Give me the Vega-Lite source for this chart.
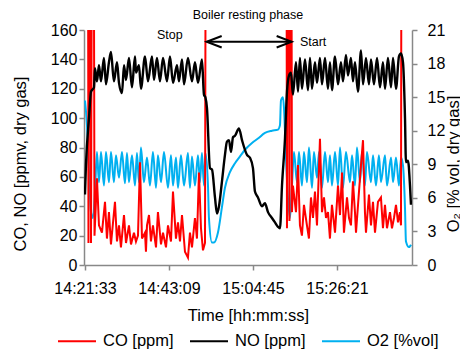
{
  "$schema": "https://vega.github.io/schema/vega-lite/v6.json",
  "width": 328,
  "height": 235,
  "autosize": {"type": "none"},
  "padding": {"left": 84, "top": 30, "right": 48, "bottom": 87},
  "background": "white",
  "title": {"text": "Boiler resting phase", "font": "Liberation Sans", "fontSize": 12.5, "fontWeight": "normal", "color": "#000", "anchor": "middle", "offset": 1},
  "config": {
    "view": {"stroke": null},
    "axis": {"grid": false, "domainColor": "#888888", "tickColor": "#888888", "domainWidth": 1.5, "tickWidth": 1.5, "tickSize": 5, "labelFont": "Liberation Sans", "labelFontSize": 16, "labelColor": "#000", "titleFont": "Liberation Sans", "titleFontSize": 16.5, "titleFontWeight": "normal", "titleColor": "#000"},
    "legend": {"symbolType": "stroke", "symbolSize": 1444, "symbolStrokeWidth": 2, "labelFont": "Liberation Sans", "labelFontSize": 16.5, "labelColor": "#000", "labelOffset": 6, "columnPadding": 12, "labelLimit": 0}
  },
  "datasets": {
    "note": [{"k": 1}],
    "co": [
      {"t":0,"v":500},{"t":39,"v":500},{"t":54,"v":15},{"t":77,"v":500},{"t":93,"v":15},{"t":123,"v":500},{"t":147,"v":20},{"t":185,"v":59},{"t":216,"v":27},{"t":262,"v":22},{"t":309,"v":43},{"t":339,"v":18},{"t":370,"v":36},{"t":401,"v":14},{"t":463,"v":43},{"t":494,"v":16},{"t":525,"v":27},{"t":555,"v":12},{"t":602,"v":34},{"t":633,"v":15},{"t":679,"v":27},{"t":710,"v":14},{"t":756,"v":22},{"t":787,"v":16},{"t":818,"v":20},{"t":849,"v":70},{"t":880,"v":18},{"t":926,"v":22},{"t":941,"v":9},{"t":957,"v":27},{"t":988,"v":34},{"t":1018,"v":16},{"t":1049,"v":27},{"t":1096,"v":12},{"t":1126,"v":36},{"t":1173,"v":14},{"t":1204,"v":22},{"t":1250,"v":12},{"t":1281,"v":27},{"t":1327,"v":16},{"t":1358,"v":50},{"t":1404,"v":18},{"t":1435,"v":29},{"t":1466,"v":16},{"t":1497,"v":34},{"t":1543,"v":9},{"t":1589,"v":5},{"t":1620,"v":22},{"t":1651,"v":12},{"t":1697,"v":32},{"t":1728,"v":18},{"t":1759,"v":63},{"t":1790,"v":25},{"t":1821,"v":10},{"t":1852,"v":15},{"t":1875,"v":500},
      {"t":3101,"v":500},{"t":3117,"v":25},{"t":3137,"v":500},{"t":3155,"v":30},{"t":3174,"v":500},{"t":3194,"v":36},{"t":3209,"v":54},{"t":3256,"v":36},{"t":3287,"v":68},{"t":3317,"v":27},{"t":3348,"v":20},{"t":3379,"v":41},{"t":3425,"v":27},{"t":3456,"v":18},{"t":3487,"v":46},{"t":3518,"v":32},{"t":3549,"v":50},{"t":3580,"v":27},{"t":3626,"v":86},{"t":3657,"v":36},{"t":3688,"v":46},{"t":3719,"v":32},{"t":3750,"v":36},{"t":3780,"v":18},{"t":3811,"v":41},{"t":3858,"v":22},{"t":3904,"v":54},{"t":3935,"v":34},{"t":3966,"v":63},{"t":3996,"v":22},{"t":4043,"v":46},{"t":4074,"v":32},{"t":4104,"v":27},{"t":4135,"v":57},{"t":4166,"v":36},{"t":4182,"v":22},{"t":4228,"v":50},{"t":4259,"v":68},{"t":4290,"v":85},{"t":4320,"v":36},{"t":4336,"v":22},{"t":4382,"v":48},{"t":4413,"v":27},{"t":4444,"v":43},{"t":4475,"v":22},{"t":4521,"v":43},{"t":4567,"v":46},{"t":4598,"v":25},{"t":4629,"v":41},{"t":4660,"v":25},{"t":4706,"v":36},{"t":4737,"v":25},{"t":4768,"v":32},{"t":4799,"v":41},{"t":4830,"v":29},{"t":4860,"v":36},{"t":4876,"v":27},{"t":4891,"v":500},{"t":5030,"v":500}
    ],
    "no": [
      {"t":0,"v":48},{"t":15,"v":68},{"t":62,"v":100},{"t":93,"v":118},{"t":139,"v":121},{"t":154,"v":134},{"t":185,"v":125},{"t":216,"v":136},{"t":247,"v":125},{"t":293,"v":141},{"t":324,"v":123},{"t":370,"v":138},{"t":401,"v":145},{"t":447,"v":125},{"t":494,"v":138},{"t":525,"v":124},{"t":571,"v":117},{"t":602,"v":136},{"t":633,"v":126},{"t":679,"v":141},{"t":725,"v":121},{"t":772,"v":142},{"t":787,"v":131},{"t":833,"v":136},{"t":864,"v":120},{"t":926,"v":142},{"t":972,"v":125},{"t":1034,"v":142},{"t":1065,"v":126},{"t":1111,"v":141},{"t":1157,"v":125},{"t":1204,"v":141},{"t":1265,"v":125},{"t":1312,"v":142},{"t":1358,"v":124},{"t":1420,"v":136},{"t":1450,"v":125},{"t":1497,"v":140},{"t":1528,"v":123},{"t":1589,"v":141},{"t":1651,"v":125},{"t":1697,"v":138},{"t":1744,"v":124},{"t":1805,"v":140},{"t":1836,"v":116},{"t":1859,"v":114},{"t":1882,"v":107},{"t":1929,"v":66},{"t":1960,"v":65},{"t":2006,"v":46},{"t":2037,"v":35},{"t":2068,"v":40},{"t":2114,"v":57},{"t":2160,"v":75},{"t":2191,"v":84},{"t":2222,"v":85},{"t":2253,"v":77},{"t":2284,"v":87},{"t":2315,"v":88},{"t":2376,"v":93},{"t":2423,"v":85},{"t":2500,"v":75},{"t":2546,"v":73},{"t":2592,"v":66},{"t":2623,"v":50},{"t":2669,"v":46},{"t":2731,"v":40},{"t":2777,"v":42},{"t":2824,"v":36},{"t":2885,"v":32},{"t":2932,"v":29},{"t":2978,"v":26},{"t":3009,"v":25},{"t":3040,"v":54},{"t":3086,"v":86},{"t":3117,"v":118},{"t":3148,"v":129},{"t":3179,"v":131},{"t":3209,"v":116},{"t":3256,"v":138},{"t":3287,"v":118},{"t":3317,"v":141},{"t":3348,"v":120},{"t":3395,"v":140},{"t":3441,"v":119},{"t":3472,"v":141},{"t":3503,"v":120},{"t":3549,"v":138},{"t":3580,"v":124},{"t":3626,"v":141},{"t":3657,"v":123},{"t":3703,"v":141},{"t":3750,"v":120},{"t":3780,"v":138},{"t":3811,"v":119},{"t":3858,"v":142},{"t":3904,"v":123},{"t":3950,"v":138},{"t":3981,"v":125},{"t":4027,"v":143},{"t":4058,"v":129},{"t":4104,"v":141},{"t":4135,"v":125},{"t":4166,"v":138},{"t":4212,"v":118},{"t":4259,"v":146},{"t":4290,"v":123},{"t":4336,"v":141},{"t":4382,"v":123},{"t":4413,"v":140},{"t":4459,"v":123},{"t":4506,"v":141},{"t":4552,"v":121},{"t":4598,"v":138},{"t":4629,"v":120},{"t":4675,"v":141},{"t":4722,"v":121},{"t":4753,"v":141},{"t":4799,"v":120},{"t":4845,"v":142},{"t":4876,"v":144},{"t":4907,"v":138},{"t":4938,"v":100},{"t":4953,"v":70},{"t":4984,"v":71},{"t":5015,"v":54},{"t":5030,"v":41}
    ],
    "o2": [
      {"t":0,"v":14.7},{"t":31,"v":12.5},{"t":62,"v":8.3},{"t":93,"v":4.7},{"t":123,"v":4.2},{"t":154,"v":6.5},{"t":185,"v":10.1},{"t":216,"v":7.4},{"t":247,"v":10.1},{"t":293,"v":7.1},{"t":324,"v":10.1},{"t":370,"v":7.4},{"t":401,"v":10.1},{"t":447,"v":7.4},{"t":478,"v":9.8},{"t":525,"v":7.8},{"t":571,"v":10.1},{"t":617,"v":7.3},{"t":648,"v":10.0},{"t":679,"v":7.4},{"t":725,"v":9.8},{"t":772,"v":7.1},{"t":802,"v":10.0},{"t":833,"v":7.4},{"t":864,"v":10.5},{"t":910,"v":7.4},{"t":957,"v":9.6},{"t":1003,"v":7.1},{"t":1049,"v":10.1},{"t":1096,"v":6.9},{"t":1126,"v":9.8},{"t":1173,"v":7.4},{"t":1219,"v":10.1},{"t":1281,"v":6.9},{"t":1327,"v":9.8},{"t":1358,"v":7.1},{"t":1404,"v":9.6},{"t":1435,"v":6.9},{"t":1481,"v":9.8},{"t":1528,"v":7.1},{"t":1589,"v":10.0},{"t":1620,"v":6.9},{"t":1651,"v":9.7},{"t":1697,"v":7.1},{"t":1744,"v":9.8},{"t":1774,"v":7.4},{"t":1805,"v":10.0},{"t":1836,"v":7.1},{"t":1859,"v":10.0},{"t":1898,"v":7.1},{"t":1913,"v":4.2},{"t":1960,"v":2.0},{"t":1990,"v":2.0},{"t":2052,"v":2.9},{"t":2114,"v":5.2},{"t":2160,"v":6.9},{"t":2237,"v":8.3},{"t":2315,"v":9.1},{"t":2392,"v":9.7},{"t":2469,"v":10.3},{"t":2577,"v":10.9},{"t":2669,"v":11.3},{"t":2777,"v":11.8},{"t":2885,"v":12.0},{"t":2978,"v":12.1},{"t":3009,"v":12.5},{"t":3024,"v":14.7},{"t":3055,"v":15.0},{"t":3071,"v":14.0},{"t":3101,"v":9.6},{"t":3132,"v":6.0},{"t":3163,"v":4.2},{"t":3194,"v":7.1},{"t":3225,"v":10.1},{"t":3271,"v":7.4},{"t":3302,"v":10.1},{"t":3348,"v":7.1},{"t":3379,"v":10.1},{"t":3425,"v":7.4},{"t":3456,"v":10.5},{"t":3503,"v":6.9},{"t":3533,"v":10.1},{"t":3580,"v":7.8},{"t":3611,"v":10.1},{"t":3657,"v":6.9},{"t":3703,"v":10.1},{"t":3750,"v":7.4},{"t":3780,"v":9.8},{"t":3811,"v":7.1},{"t":3858,"v":10.1},{"t":3904,"v":7.1},{"t":3935,"v":10.5},{"t":3981,"v":6.9},{"t":4027,"v":10.1},{"t":4089,"v":7.4},{"t":4120,"v":9.8},{"t":4166,"v":7.1},{"t":4197,"v":10.5},{"t":4243,"v":7.4},{"t":4274,"v":10.1},{"t":4320,"v":7.1},{"t":4351,"v":10.1},{"t":4413,"v":7.4},{"t":4444,"v":9.8},{"t":4490,"v":7.1},{"t":4536,"v":9.8},{"t":4567,"v":7.4},{"t":4629,"v":9.8},{"t":4660,"v":7.1},{"t":4722,"v":9.6},{"t":4753,"v":7.4},{"t":4799,"v":9.6},{"t":4845,"v":7.1},{"t":4876,"v":9.6},{"t":4907,"v":8.9},{"t":4938,"v":5.1},{"t":4953,"v":2.1},{"t":4999,"v":1.6},{"t":5030,"v":1.8}
    ]
  },
  "layer": [
    {
      "data": {"name": "o2"},
      "mark": {"type": "line", "strokeWidth": 2, "clip": true, "interpolate": "monotone"},
      "encoding": {
        "x": {"field": "t", "type": "quantitative", "scale": {"domain": [-15, 5046], "nice": false, "zero": false},
              "axis": {"orient": "bottom", "values": [0, 1296, 2592, 3888], "labelExpr": "utcFormat((datum.value + 51693) * 1000, '%H:%M:%S')", "labelPadding": 10, "labelFlush": false, "labelOverlap": false, "title": "Time [hh:mm:ss]", "titleY": 55, "titleBaseline": "alphabetic"}},
        "y": {"field": "v", "type": "quantitative", "scale": {"domain": [0, 21], "nice": false},
              "axis": {"orient": "right", "values": [0, 3, 6, 9, 12, 15, 18, 21], "labelPadding": 10, "labelFlush": false, "labelOverlap": false, "title": "O₂ [% vol, dry gas]", "titleAngle": 270, "titleX": 41, "titleY": 133.5, "titleBaseline": "middle", "titleAlign": "center"}},
        "color": {"datum": "O2 [%vol]", "type": "nominal",
                  "scale": {"domain": ["CO [ppm]", "NO [ppm]", "O2 [%vol]"], "range": ["#FF0000", "#000000", "#00B0F0"]},
                  "legend": {"title": null, "orient": "none", "legendX": -27, "legendY": 291, "direction": "horizontal"}}
      }
    },
    {
      "data": {"name": "co"},
      "mark": {"type": "line", "strokeWidth": 2, "clip": true},
      "encoding": {
        "x": {"field": "t", "type": "quantitative"},
        "y": {"field": "v", "type": "quantitative", "scale": {"domain": [0, 160], "nice": false},
              "axis": {"orient": "left", "values": [0, 20, 40, 60, 80, 100, 120, 140, 160], "labelPadding": 2, "labelFlush": false, "labelOverlap": false, "title": "CO, NO [ppmv, dry gas]", "titleAngle": 270, "titleX": -63.5, "titleY": 133.5, "titleBaseline": "middle", "titleAlign": "center"}},
        "color": {"datum": "CO [ppm]", "type": "nominal"}
      }
    },
    {
      "data": {"name": "no"},
      "mark": {"type": "line", "strokeWidth": 2.4, "clip": true, "interpolate": "monotone"},
      "encoding": {
        "x": {"field": "t", "type": "quantitative"},
        "y": {"field": "v", "type": "quantitative", "scale": {"domain": [0, 160], "nice": false}, "axis": null},
        "color": {"datum": "NO [ppm]", "type": "nominal"}
      }
    },
    {
      "data": {"name": "note"},
      "mark": {"type": "rule", "color": "#000", "strokeWidth": 2},
      "encoding": {
        "x": {"datum": 1878, "type": "quantitative"},
        "x2": {"datum": 3189},
        "y": {"datum": 152, "type": "quantitative", "scale": {"domain": [0, 160], "nice": false}, "axis": null}
      }
    },
    {
      "data": {"name": "note"},
      "mark": {"type": "point", "shape": "M2,-0.76L0,0L2,0.76", "size": 225, "filled": false, "color": "#000", "strokeWidth": 2, "opacity": 1},
      "encoding": {
        "x": {"datum": 1878, "type": "quantitative"},
        "y": {"datum": 152, "type": "quantitative", "scale": {"domain": [0, 160], "nice": false}, "axis": null}
      }
    },
    {
      "data": {"name": "note"},
      "mark": {"type": "point", "shape": "M-2,-0.76L0,0L-2,0.76", "size": 225, "filled": false, "color": "#000", "strokeWidth": 2, "opacity": 1},
      "encoding": {
        "x": {"datum": 3189, "type": "quantitative"},
        "y": {"datum": 152, "type": "quantitative", "scale": {"domain": [0, 160], "nice": false}, "axis": null}
      }
    },
    {
      "data": {"name": "note"},
      "mark": {"type": "text", "text": "Stop", "font": "Liberation Sans", "fontSize": 12.5, "align": "left", "baseline": "alphabetic", "color": "#000"},
      "encoding": {
        "x": {"datum": 1111, "type": "quantitative"},
        "y": {"datum": 153.9, "type": "quantitative", "scale": {"domain": [0, 160], "nice": false}, "axis": null}
      }
    },
    {
      "data": {"name": "note"},
      "mark": {"type": "text", "text": "Start", "font": "Liberation Sans", "fontSize": 12.5, "align": "left", "baseline": "alphabetic", "color": "#000"},
      "encoding": {
        "x": {"datum": 3317, "type": "quantitative"},
        "y": {"datum": 149.1, "type": "quantitative", "scale": {"domain": [0, 160], "nice": false}, "axis": null}
      }
    }
  ],
  "resolve": {"scale": {"y": "independent"}}
}
